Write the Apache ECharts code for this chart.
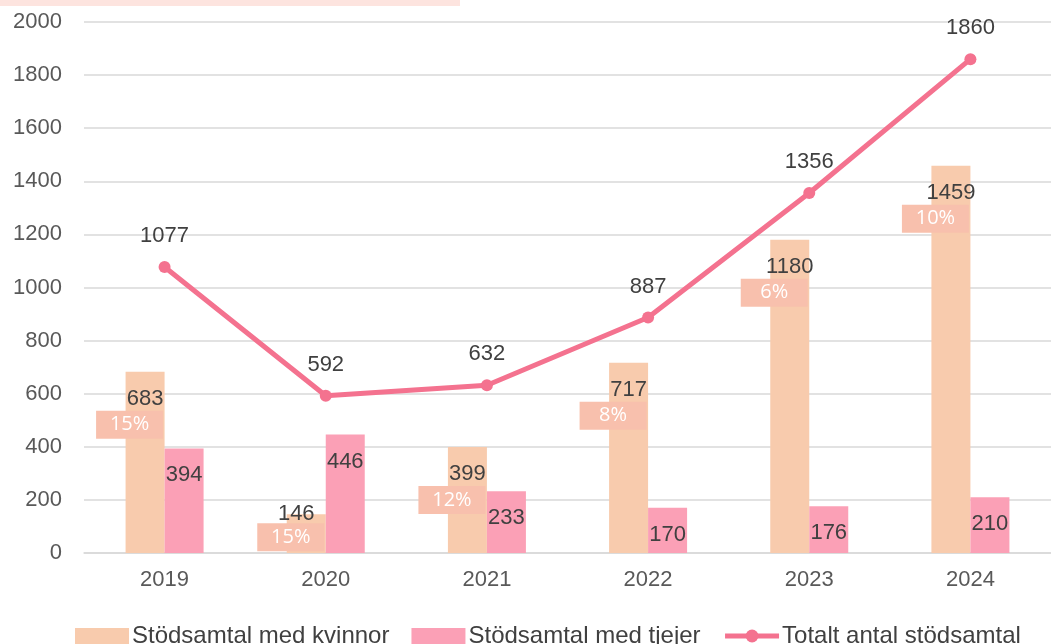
<!DOCTYPE html>
<html>
<head>
<meta charset="utf-8">
<script src="https://cdn.jsdelivr.net/npm/echarts@6/dist/echarts.min.js"></script>
<style>
  html, body { margin: 0; padding: 0; background: #fff; }
  #chart { width: 1051px; height: 644px; }
</style>
</head>
<body>
<div id="chart"></div>
<script>
  const years = ['2019', '2020', '2021', '2022', '2023', '2024'];
  const kvinnor = [683, 146, 399, 717, 1180, 1459];
  const tjejer = [394, 446, 233, 170, 176, 210];
  const totalt = [1077, 592, 632, 887, 1356, 1860];
  const andel = ['15%', '15%', '12%', '8%', '6%', '10%'];

  const font = '"Liberation Sans", Arial, sans-serif';
  const textColor = '#404040';

  const instance = echarts.init(document.getElementById('chart'), null, { renderer: 'canvas' });

  const option = {
    animation: false,
    textStyle: { fontFamily: font },
    graphic: [
      { type: 'rect', left: 0, top: 0, shape: { width: 460, height: 6 }, style: { fill: '#fde4df' } },
    ],
    legend: {
      data: [
        { name: 'Stödsamtal med kvinnor', icon: 'rect' },
        { name: 'Stödsamtal med tjejer', icon: 'rect' },
        { name: 'Totalt antal stödsamtal' },
      ],
      left: 70,
      top: 619,
      itemWidth: 54,
      itemHeight: 16,
      itemGap: 22,
      lineStyle: { width: 5 },
      textStyle: { fontFamily: font, fontSize: 24, color: textColor, padding: [0, 0, 0, -2] },
    },
    grid: { left: 84, right: -9, top: 22, bottom: 91, containLabel: false },
    xAxis: {
      type: 'category',
      data: years,
      axisLine: { lineStyle: { color: '#d9d9d9', width: 1.5 } },
      axisTick: { show: false },
      axisLabel: { fontSize: 22, color: '#595959', margin: 16 },
    },
    yAxis: {
      type: 'value',
      min: 0,
      max: 2000,
      interval: 200,
      axisLine: { show: false },
      axisTick: { show: false },
      axisLabel: { fontSize: 22, color: '#595959', margin: 22, formatter: (v) => String(v) },
      splitLine: { lineStyle: { color: '#d9d9d9', width: 1.5 } },
    },
    series: [
      {
        name: 'Stödsamtal med kvinnor',
        type: 'bar',
        barWidth: 39,
        barGap: '0%',
        itemStyle: { color: '#f8cbad' },
        label: { show: true, position: 'insideTop', distance: 16, fontSize: 22, color: textColor },
        data: kvinnor.map((v, i) => i === 1
          ? { value: v, label: { position: 'top', distance: -11, offset: [-10, 0] } }
          : v),
      },
      {
        name: 'Stödsamtal med tjejer',
        type: 'bar',
        barWidth: 39,
        barGap: '0%',
        itemStyle: { color: '#fba0b6' },
        label: { show: true, position: 'insideTop', distance: 16, fontSize: 22, color: textColor },
        data: tjejer,
      },
      {
        name: 'andel',
        type: 'scatter',
        symbolSize: 0,
        z: 4,
        itemStyle: { opacity: 1 },
        emphasis: { disabled: true },
        label: {
          show: true,
          position: 'inside',
          offset: [-35, 53],
          formatter: (p) => andel[p.dataIndex],
          fontFamily: '"Open Sans", sans-serif',
          fontSize: 20,
          color: '#ffffff',
          opacity: 1,
          backgroundColor: '#f8c0ad',
          width: 67,
          height: 28,
          lineHeight: 28,
          align: 'center',
          verticalAlign: 'middle',
        },
        data: kvinnor.map((v, i) => i === 1 ? { value: v, label: { offset: [-35, 23] } } : v),
      },
      {
        name: 'Totalt antal stödsamtal',
        type: 'line',
        z: 5,
        symbol: 'circle',
        symbolSize: 12,
        lineStyle: { color: '#f4728f', width: 5 },
        itemStyle: { color: '#f4728f' },
        label: { show: true, position: 'top', distance: 14, fontSize: 22, color: textColor },
        data: totalt,
      },
    ],
  };

  instance.setOption(option);
  window.addEventListener('resize', () => instance.resize());
</script>
</body>
</html>
